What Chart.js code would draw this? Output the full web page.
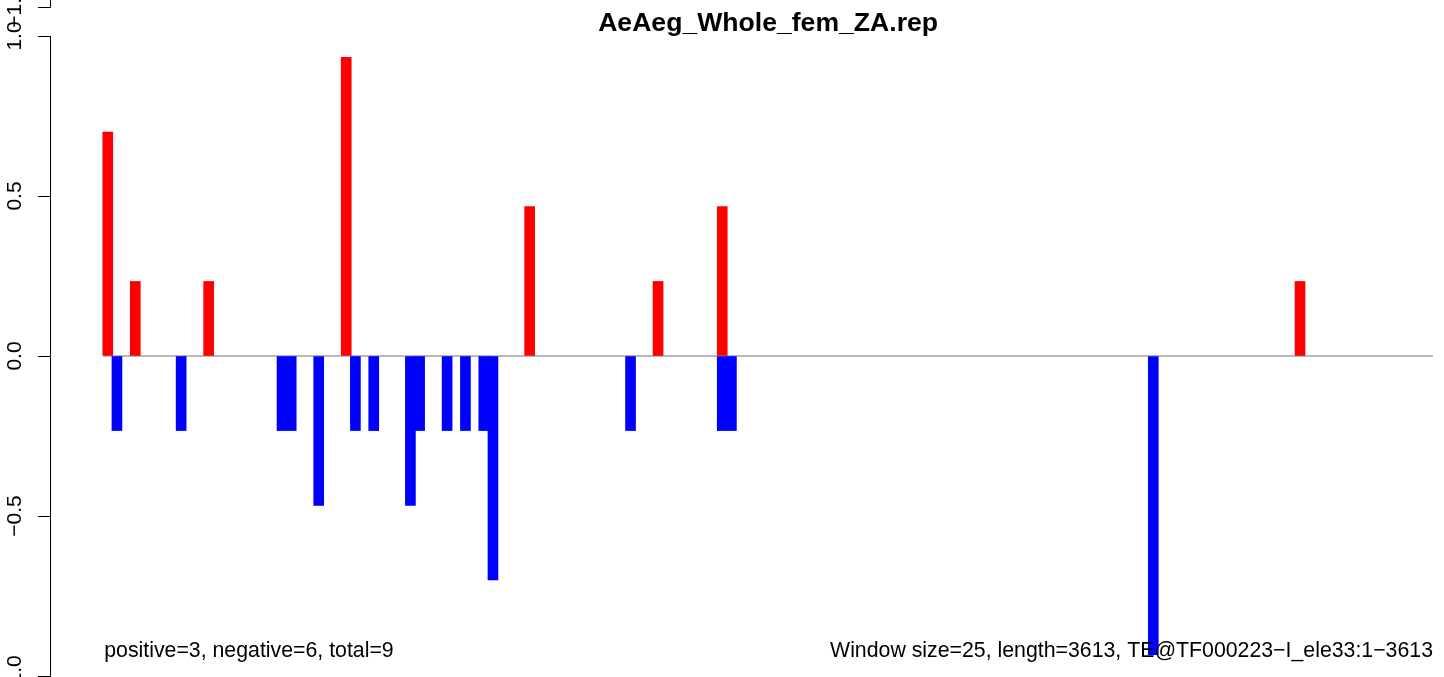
<!DOCTYPE html>
<html>
<head>
<meta charset="utf-8">
<script src="https://cdn.jsdelivr.net/npm/chart.js@4"></script>
<style>
  html, body { margin: 0; padding: 0; background: #fff; }
  #wrap { width: 1444px; height: 677px; }
</style>
</head>
<body>
<div id="wrap"><canvas id="chart" width="1444" height="677"></canvas></div>
<script>
const chartTitle = 'AeAeg_Whole_fem_ZA.rep';
const leftNote = 'positive=3, negative=6, total=9';
const rightNote = 'Window size=25, length=3613, TE@TF000223\u2212I_ele33:1\u22123613';
const binCount = 145; // 3613 bp / 25 bp windows

// window index and height of every bar
const posBins = [0, 3, 11, 26, 46, 60, 67, 130];
const posValues = [0.7, 0.233, 0.233, 0.933, 0.467, 0.233, 0.467, 0.233];
const negBins = [1, 8, 19, 20, 23, 27, 29, 33, 34, 37, 39, 41, 42, 57, 67, 68, 114];
const negValues = [-0.233, -0.233, -0.233, -0.233, -0.467, -0.233, -0.233, -0.467, -0.233,
	-0.233, -0.233, -0.233, -0.7, -0.233, -0.233, -0.233, -0.933];
const yTicks = [-1, -0.5, 0, 0.5, 1];

const font = '"Liberation Sans", Arial, Helvetica, sans-serif';
const toPoints = (bins, vals) => bins.map((b, i) => ({ x: b, y: vals[i] }));
const tickText = v => (v < 0 ? '\u2212' : '') + Math.abs(v).toFixed(1);

// R-style extras: rotated y labels, title, notes, and the clipped axis of the panel above
const decorations = {
	id: 'decorations',
	afterDraw(chart) {
		const { ctx, scales: { x, y } } = chart;
		ctx.save();
		ctx.fillStyle = '#000';
		ctx.font = '21px ' + font;
		ctx.textAlign = 'center';
		ctx.textBaseline = 'middle';
		y.ticks.forEach(t => {
			ctx.save();
			ctx.translate(14, y.getPixelForValue(t.value));
			ctx.rotate(-Math.PI / 2);
			ctx.fillText(t.label, 0, 1);
			ctx.restore();
		});

		// leftover from the panel above
		ctx.save();
		ctx.translate(14, 7);
		ctx.rotate(-Math.PI / 2);
		ctx.fillText(tickText(-1), 0, 1);
		ctx.restore();
		ctx.strokeStyle = '#000';
		ctx.lineWidth = 1;
		ctx.beginPath();
		ctx.moveTo(50.5, 0);
		ctx.lineTo(50.5, 7.5);
		ctx.lineTo(38, 7.5);
		ctx.stroke();

		const left = x.getPixelForValue(-0.5);
		const right = x.getPixelForValue(binCount - 0.5);
		ctx.textBaseline = 'alphabetic';
		ctx.font = 'bold 26.6px ' + font;
		ctx.fillText(chartTitle, (left + right) / 2, 31);
		ctx.font = '21.3px ' + font;
		ctx.textAlign = 'left';
		ctx.fillText(leftNote, left + 1, 657);
		ctx.textAlign = 'right';
		ctx.fillText(rightNote, right, 657);
		ctx.restore();
	}
};

const chart = new Chart(document.getElementById('chart'), {
	data: {
		datasets: [{
			type: 'bar',
			data: toPoints(posBins, posValues),
			backgroundColor: '#ff0000',
			barThickness: 10,
			grouped: false,
			order: 1
		}, {
			type: 'bar',
			data: toPoints(negBins, negValues),
			backgroundColor: '#0000ff',
			barThickness: 10,
			grouped: false,
			order: 1
		}, {
			type: 'line',
			data: [{ x: -0.5, y: 0 }, { x: binCount - 0.5, y: 0 }],
			borderColor: '#a0a0a0',
			borderWidth: 1.5,
			pointRadius: 0,
			order: 5
		}]
	},
	options: {
		responsive: false,
		animation: false,
		layout: { padding: { top: 36, bottom: 1, left: 0, right: 11 } },
		scales: {
			x: {
				type: 'linear',
				display: false,
				offset: false,
				min: -6.3,
				max: binCount - 0.5
			},
			y: {
				min: -1,
				max: 1,
				afterBuildTicks: s => { s.ticks = yTicks.map(v => ({ value: v })); },
				afterFit: s => { s.width = 50; },
				ticks: { display: false, callback: tickText },
				grid: { drawOnChartArea: false, drawTicks: true, tickLength: 12, color: '#000' },
				border: { display: true, color: '#000', width: 1 }
			}
		},
		plugins: {
			legend: { display: false },
			tooltip: { enabled: false },
			title: { display: false }
		}
	},
	plugins: [decorations]
});
</script>
</body>
</html>
